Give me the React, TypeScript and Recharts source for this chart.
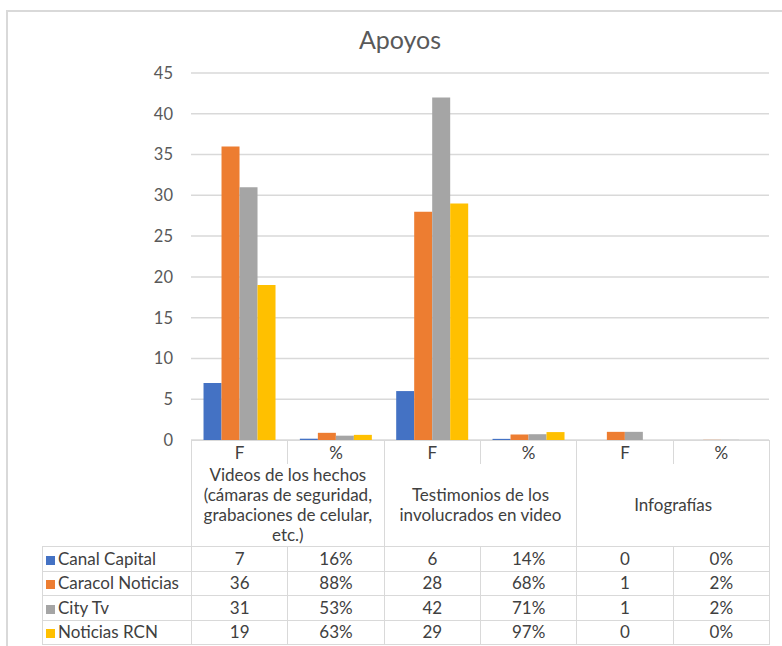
import { Bar, BarChart, CartesianGrid, XAxis, YAxis } from "recharts";

const columns = ["F", "%", "F", "%", "F", "%"];
const groups = [
  "Videos de los hechos (cámaras de seguridad, grabaciones de celular, etc.)",
  "Testimonios de los involucrados en video",
  "Infografías",
];
const canalCapital = [7, 0.16, 6, 0.14, 0, 0];
const caracolNoticias = [36, 0.88, 28, 0.68, 1, 0.02];
const cityTv = [31, 0.53, 42, 0.71, 1, 0.02];
const noticiasRcn = [19, 0.63, 29, 0.97, 0, 0];
const yTicks = [0, 5, 10, 15, 20, 25, 30, 35, 40, 45];

const series = [
  { key: "canal", name: "Canal Capital", values: canalCapital, color: "#4472C4" },
  { key: "caracol", name: "Caracol Noticias", values: caracolNoticias, color: "#ED7D31" },
  { key: "city", name: "City Tv", values: cityTv, color: "#A5A5A5" },
  { key: "rcn", name: "Noticias RCN", values: noticiasRcn, color: "#FFC000" },
];

const data = columns.map((col, i) => {
  const row: Record<string, number | string> = { col: col + i };
  series.forEach((s) => (row[s.key] = s.values[i]));
  return row;
});

const font = "Lato, 'Open Sans', sans-serif";
const line = "1px solid #d9d9d9";

function fmt(v: number, i: number) {
  return columns[i] === "%" ? `${Math.round(v * 100)}%` : String(v);
}

function DataTable() {
  const colW = (769 - 191) / 6;
  const cell: React.CSSProperties = {
    textAlign: "center",
    padding: 0,
    border: line,
  };
  return (
    <table
      style={{
        position: "absolute",
        left: 42,
        top: 440,
        width: 727,
        borderCollapse: "collapse",
        tableLayout: "fixed",
        fontFamily: font,
        fontSize: 17,
        color: "#404040",
      }}
    >
      <colgroup>
        <col style={{ width: 149 }} />
        {columns.map((_, i) => (
          <col key={i} style={{ width: colW }} />
        ))}
      </colgroup>
      <tbody>
        <tr style={{ height: 23 }}>
          <td style={{ border: "none" }} />
          {columns.map((c, i) => (
            <td key={i} style={{ ...cell, borderBottom: "none", lineHeight: "21px" }}>
              {c}
            </td>
          ))}
        </tr>
        <tr style={{ height: 83 }}>
          <td style={{ border: "none" }} />
          {groups.map((g, i) => (
            <td
              key={i}
              colSpan={2}
              style={{ ...cell, borderTop: "none", lineHeight: "20px", padding: "0 3px" }}
            >
              {g}
            </td>
          ))}
        </tr>
        {series.map((s) => (
          <tr key={s.key} style={{ height: 24.5, lineHeight: "22px" }}>
            <td style={{ ...cell, textAlign: "left", paddingLeft: 3, whiteSpace: "nowrap" }}>
              <span
                style={{
                  display: "inline-block",
                  width: 9,
                  height: 9,
                  background: s.color,
                  marginRight: 3,
                }}
              />
              {s.name}
            </td>
            {s.values.map((v, i) => (
              <td key={i} style={cell}>
                {fmt(v, i)}
              </td>
            ))}
          </tr>
        ))}
      </tbody>
    </table>
  );
}

export default function App() {
  return (
    <div
      style={{
        position: "absolute",
        left: 0,
        top: 0,
        width: 782,
        height: 646,
        background: "#fff",
        overflow: "hidden",
      }}
    >
      <div
        style={{
          position: "absolute",
          left: 6,
          top: 10,
          width: 800,
          height: 700,
          borderTop: "2px solid #d9d9d9",
          borderLeft: "2px solid #d9d9d9",
        }}
      />
      <div
        style={{
          position: "absolute",
          left: 0,
          top: 24,
          width: 800,
          textAlign: "center",
          fontFamily: font,
          fontSize: 25,
          color: "#595959",
        }}
      >
        Apoyos
      </div>
      <div style={{ position: "absolute", left: 0, top: 0 }}>
        <BarChart
          width={782}
          height={646}
          data={data}
          margin={{ top: 73, right: 13, bottom: 206, left: 0 }}
          barCategoryGap="13%"
          barGap={0}
        >
          <CartesianGrid vertical={false} stroke="#d9d9d9" strokeWidth={1.5} />
          <XAxis dataKey="col" hide />
          <YAxis
            width={191}
            domain={[0, 45]}
            ticks={yTicks}
            axisLine={false}
            tickLine={false}
            tickMargin={12}
            tick={{ fontFamily: font, fontSize: 16.5, fill: "#595959" }}
          />
          {series.map((s) => (
            <Bar
              key={s.key}
              dataKey={s.key}
              name={s.name}
              fill={s.color}
              isAnimationActive={false}
            />
          ))}
        </BarChart>
      </div>
      <DataTable />
    </div>
  );
}
